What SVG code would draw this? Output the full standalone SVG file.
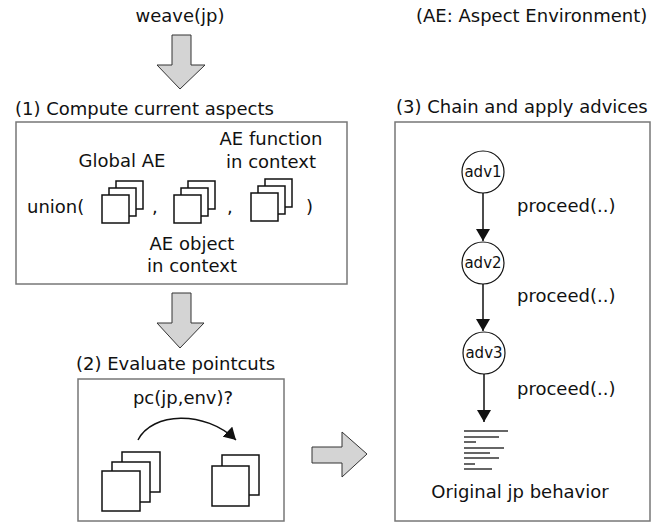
<svg xmlns="http://www.w3.org/2000/svg" width="665" height="524" viewBox="0 0 665 524">
<style>
text{font-family:"DejaVu Sans","Liberation Sans",sans-serif;font-size:18px;fill:#111}
.m{text-anchor:middle}
.box{fill:#fff;stroke:#777;stroke-width:1.5}
.sq{fill:#fff;stroke:#111;stroke-width:1.5}
.big{fill:#d4d4d4;stroke:#333;stroke-width:1}
.c{fill:#fff;stroke:#111;stroke-width:1.2}
.sm{font-size:15px}
.ln{stroke:#333;stroke-width:1.5}
.edge{stroke:#111;stroke-width:1.5;fill:none}
</style>
<defs>
<marker id="ah" viewBox="0 0 12 14" refX="12" refY="7" markerWidth="12" markerHeight="14" markerUnits="userSpaceOnUse" orient="auto">
<path d="M0,0 L12,7 L0,14 z" fill="#111"/>
</marker>
</defs>
<rect width="665" height="524" fill="#fff"/>

<g id="title">
<text class="m" x="180" y="22">weave(jp)</text>
<text x="416" y="22">(AE: Aspect Environment)</text>
</g>

<g id="stage1">
<text x="15" y="115">(1) Compute current aspects</text>
<rect class="box" x="16" y="122" width="331" height="162"/>
<text class="m" x="122" y="167">Global AE</text>
<text class="m" x="271" y="145">AE function</text>
<text class="m" x="271" y="168">in context</text>
<text x="27" y="213">union(</text>
<text x="152" y="213">,</text>
<text x="227" y="213">,</text>
<text x="306" y="213">)</text>
<text class="m" x="192" y="250">AE object</text>
<text class="m" x="192" y="272">in context</text>
<g id="stack1">
<rect class="sq" x="116" y="181" width="27" height="28"/>
<rect class="sq" x="109" y="188" width="27" height="28"/>
<rect class="sq" x="102" y="195" width="27" height="28"/>
</g>
<g id="stack2">
<rect class="sq" x="188" y="181" width="27" height="28"/>
<rect class="sq" x="181" y="188" width="27" height="28"/>
<rect class="sq" x="174" y="195" width="27" height="28"/>
</g>
<g id="stack3">
<rect class="sq" x="265" y="179" width="27" height="28"/>
<rect class="sq" x="258" y="186" width="27" height="28"/>
<rect class="sq" x="251" y="193" width="27" height="28"/>
</g>
</g>

<g id="stage2">
<text x="76" y="370">(2) Evaluate pointcuts</text>
<rect class="box" x="78" y="379" width="206" height="142"/>
<text class="m" x="183" y="404">pc(jp,env)?</text>
<g id="stack4">
<rect class="sq" x="122" y="452" width="38" height="40"/>
<rect class="sq" x="112" y="462" width="38" height="40"/>
<rect class="sq" x="102" y="471" width="38" height="40"/>
</g>
<g id="stack5">
<rect class="sq" x="222" y="455" width="37" height="40"/>
<rect class="sq" x="212" y="466" width="37" height="40"/>
</g>
</g>

<g id="stage3">
<text x="396" y="113">(3) Chain and apply advices</text>
<rect class="box" x="395" y="122" width="255" height="399"/>
<g id="adv1"><circle class="c" cx="483" cy="172" r="21"/><text class="m sm" x="483" y="177">adv1</text></g>
<g id="adv2"><circle class="c" cx="483" cy="263" r="21"/><text class="m sm" x="483" y="268">adv2</text></g>
<g id="adv3"><circle class="c" cx="484" cy="353" r="21"/><text class="m sm" x="484" y="358">adv3</text></g>
<g id="original">
<line class="ln" x1="464" y1="431" x2="508" y2="431"/>
<line class="ln" x1="464" y1="437" x2="499" y2="437"/>
<line class="ln" x1="464" y1="442" x2="476" y2="442"/>
<line class="ln" x1="464" y1="448" x2="504" y2="448"/>
<line class="ln" x1="464" y1="453" x2="490" y2="453"/>
<line class="ln" x1="464" y1="458" x2="499" y2="458"/>
<line class="ln" x1="464" y1="464" x2="475" y2="464"/>
<line class="ln" x1="464" y1="469" x2="492" y2="469"/>
<text class="m" x="520" y="498">Original jp behavior</text>
</g>
</g>

<g id="connectors">
<polygon class="big" points="172,35 191,35 191,65 205,65 180,89 157,65 172,65"/>
<polygon class="big" points="172,293 191,293 191,323 204,323 180,348 157,323 172,323"/>
<polygon class="big" points="312,447 342,447 342,432 367,454 342,477 342,463 312,463"/>
<path class="edge" d="M138,440 C152,412 205,410 236,440" marker-end="url(#ah)"/>
<line class="edge" x1="483" y1="193" x2="483" y2="241" marker-end="url(#ah)"/>
<line class="edge" x1="483" y1="284" x2="483" y2="331" marker-end="url(#ah)"/>
<line class="edge" x1="484" y1="374" x2="484" y2="422" marker-end="url(#ah)"/>
<text x="517" y="212">proceed(..)</text>
<text x="517" y="302">proceed(..)</text>
<text x="517" y="395">proceed(..)</text>
</g>
</svg>
